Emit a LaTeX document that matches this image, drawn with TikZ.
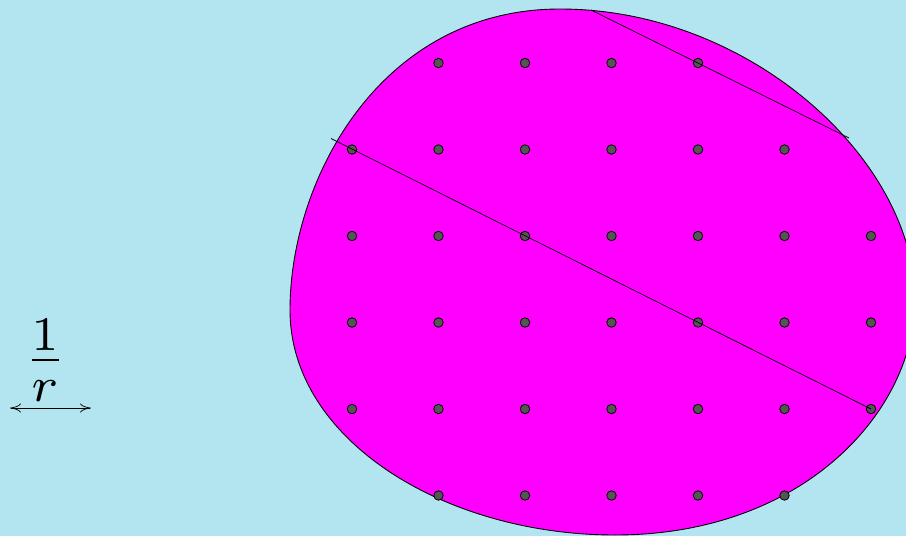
\documentclass[tikz,border=0pt]{standalone}
\usetikzlibrary{arrows.meta}
\definecolor{bgblue}{HTML}{B3E5F1}
\definecolor{blobmag}{HTML}{FF00FF}
\definecolor{dotgray}{HTML}{555555}
\begin{document}
\begin{tikzpicture}[x=1pt,y=-1pt,
  griddot/.style={circle,draw=black,fill=dotgray,line width=0.8pt,minimum size=9.5pt,inner sep=0pt},
  chord/.style={draw=black,line width=0.7pt},
  blob/.style={draw=black,fill=blobmag,line width=0.9pt},
  tipr/.style={line width=0.7pt,{To[length=11pt,width=9pt]}-{To[length=11pt,width=9pt]}}]
\useasboundingbox (0,0) rectangle (906,536);
\clip (0,0) rectangle (906,536);
\fill[bgblue] (0,0) rectangle (906,536);
% blob
\coordinate (top) at (560,9);
\coordinate (rgt) at (915,300);
\coordinate (bot) at (615,535);
\coordinate (lft) at (290,310);
\draw[blob] (top) .. controls (750,9) and (915,160) .. (rgt)
  .. controls (915,410) and (805,535) .. (bot)
  .. controls (445,535) and (290,440) .. (lft)
  .. controls (290,180) and (380,9) .. (top) -- cycle;
% dots
\foreach \i/\x in {1/352,2/438.5,3/525,4/611.5,5/698,6/784.5,7/871}{
  \foreach \j/\y in {1/63,2/149.5,3/236,4/322.5,5/409,6/495.5}{
    \pgfmathtruncatemacro{\keep}{ (\j==1 && (\i<2 || \i>5)) || (\j==2 && \i>6) || (\j==6 && (\i<2 || \i>6)) ? 0 : 1}
    \ifnum\keep=1
      \node[griddot] (d-\i-\j) at (\x,\y) {};
    \fi
  }
}
% chords
\coordinate (a1) at (591,10);
\coordinate (a2) at (849,138);
\coordinate (b1) at (331,138.5);
\draw[chord] (a1) -- (a2);
\draw[chord] (b1) -- (d-7-5.center);
% label
\node[scale=6.9,inner sep=0pt] (lab) at (45.5,360) {$\frac{1}{r}$};
\coordinate (l1) at (10,408);
\coordinate (l2) at (91,408);
\draw[tipr] (l1) -- (l2);
\end{tikzpicture}
\end{document}
